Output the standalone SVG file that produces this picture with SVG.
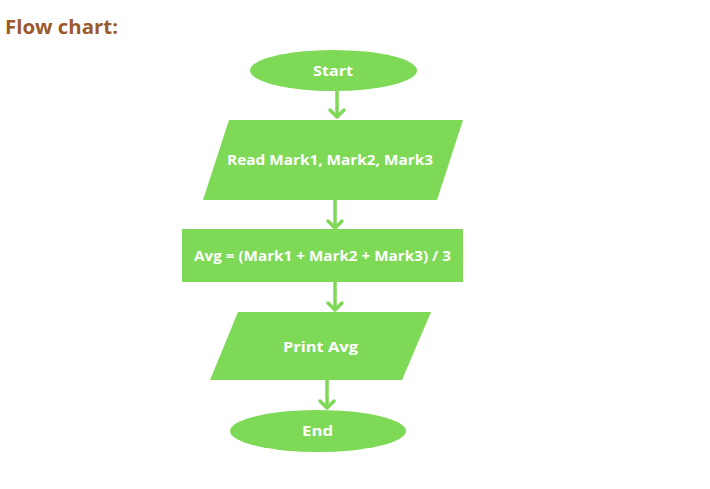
<svg xmlns="http://www.w3.org/2000/svg" width="710" height="489" viewBox="0 0 710 489">
<defs>
<style>
.shape{fill:#7ED957;}
.lbl{font-family:"Open Sans","Liberation Sans",sans-serif;font-weight:700;font-size:15px;fill:#ffffff;text-anchor:middle;}
.title{font-family:"Open Sans","Liberation Sans",sans-serif;font-weight:700;font-size:19px;fill:#9B5A2B;}
.conn{stroke:#7ED957;stroke-width:3.5;fill:none;}
.head{stroke:#7ED957;stroke-width:3.5;fill:none;stroke-linecap:round;stroke-linejoin:round;}
</style>
</defs>
<rect width="710" height="489" fill="#ffffff"/>
<text class="title" x="5" y="34" textLength="113" lengthAdjust="spacingAndGlyphs">Flow chart:</text>
<g id="connectors">
<line class="conn" x1="337" y1="90" x2="337" y2="117"/>
<polyline class="head" points="330,110 337,117 344,110"/>
<line class="conn" x1="335" y1="200" x2="335" y2="228"/>
<polyline class="head" points="328,221 335,228 342,221"/>
<line class="conn" x1="335" y1="282" x2="335" y2="310"/>
<polyline class="head" points="328,303 335,310 342,303"/>
<line class="conn" x1="327" y1="380" x2="327" y2="408"/>
<polyline class="head" points="320,401 327,408 334,401"/>
</g>
<g id="start">
<ellipse class="shape" cx="333.5" cy="70.5" rx="83.5" ry="20.5"/>
<text class="lbl" x="333" y="76" textLength="40" lengthAdjust="spacingAndGlyphs">Start</text>
</g>
<g id="read">
<polygon class="shape" points="229,120 463,120 437,200 203,200"/>
<text class="lbl" x="330" y="165" textLength="206" lengthAdjust="spacingAndGlyphs">Read Mark1, Mark2, Mark3</text>
</g>
<g id="avg">
<rect class="shape" x="182" y="229" width="281" height="53"/>
<text class="lbl" x="322.5" y="261" textLength="257" lengthAdjust="spacingAndGlyphs">Avg = (Mark1 + Mark2 + Mark3) / 3</text>
</g>
<g id="print">
<polygon class="shape" points="238,312 431,312 402,380 210,380"/>
<text class="lbl" x="320.5" y="352" textLength="75" lengthAdjust="spacingAndGlyphs">Print Avg</text>
</g>
<g id="end">
<ellipse class="shape" cx="318" cy="431" rx="88" ry="21"/>
<text class="lbl" x="317.5" y="436" textLength="31" lengthAdjust="spacingAndGlyphs">End</text>
</g>
</svg>
